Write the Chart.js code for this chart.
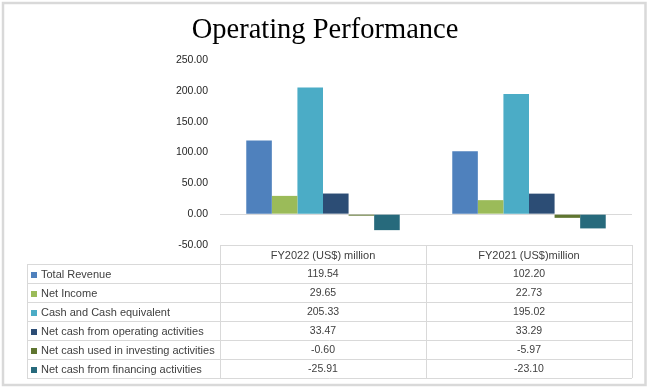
<!DOCTYPE html>
<html>
<head>
<meta charset="utf-8">
<script src="https://cdn.jsdelivr.net/npm/chart.js@4/dist/chart.umd.min.js"></script>
<style>
  html, body { margin: 0; padding: 0; background: #fff; }
  #wrap { width: 650px; height: 390px; }
</style>
</head>
<body>
<div id="wrap"><canvas id="opChart" width="650" height="390"></canvas></div>
<script>
// chart data
const categories = ['FY2022 (US$) million', 'FY2021 (US$)million'];
const seriesNames = [
  'Total Revenue',
  'Net Income',
  'Cash and Cash equivalent',
  'Net cash from operating activities',
  'Net cash used in investing activities',
  'Net cash from financing activities'
];
const fy2022 = [119.54, 29.65, 205.33, 33.47, -0.60, -25.91];
const fy2021 = [102.20, 22.73, 195.02, 33.29, -5.97, -23.10];
const yMin = -50;
const yMax = 250;
const yStep = 50;

const colors = ['#4F81BD', '#9BBB59', '#4BACC6', '#2C4D75', '#5F7530', '#276A7C'];
const lineGray = '#d9d9d9';
const textGray = '#404040';
const sansFont = '"Liberation Sans", Arial, sans-serif';

// one dataset per series, one value per fiscal year
const datasets = seriesNames.map((name, i) => ({
  label: name,
  data: [fy2022[i], fy2021[i]],
  backgroundColor: colors[i],
  borderWidth: 0,
  minBarLength: 1.5,
  barPercentage: 1,
  categoryPercentage: 0.745
}));

// outer frame of the chart object
const framePlugin = {
  id: 'frame',
  beforeDraw(chart) {
    const ctx = chart.ctx;
    ctx.save();
    ctx.fillStyle = '#fff';
    ctx.fillRect(0, 0, chart.width, chart.height);
    ctx.strokeStyle = lineGray;
    ctx.lineWidth = 2.5;
    ctx.strokeRect(3, 3, 642.5, 382);
    ctx.restore();
  }
};

// excel style data table under the plot
const dataTablePlugin = {
  id: 'dataTable',
  afterDraw(chart) {
    const ctx = chart.ctx;
    const x = chart.scales.x;
    const area = chart.chartArea;
    const rowH = 19;
    const labelLeft = 27;
    const colW = (x.right - x.left) / categories.length;
    const headTop = area.bottom;
    const bodyTop = headTop + rowH;
    const bodyBottom = bodyTop + rowH * seriesNames.length;

    ctx.save();
    ctx.strokeStyle = lineGray;
    ctx.lineWidth = 1;
    ctx.beginPath();
    // header top
    ctx.moveTo(x.left, Math.round(headTop) + 0.5);
    ctx.lineTo(x.right, Math.round(headTop) + 0.5);
    // body rows
    for (let r = 0; r <= seriesNames.length; r++) {
      const y = Math.round(bodyTop + r * rowH) + 0.5;
      ctx.moveTo(labelLeft, y);
      ctx.lineTo(x.right, y);
    }
    // verticals
    ctx.moveTo(labelLeft + 0.5, bodyTop);
    ctx.lineTo(labelLeft + 0.5, bodyBottom);
    for (let c = 0; c <= categories.length; c++) {
      const cx = Math.round(x.left + c * colW) + 0.5;
      ctx.moveTo(cx, headTop);
      ctx.lineTo(cx, bodyBottom);
    }
    ctx.stroke();

    ctx.fillStyle = textGray;
    ctx.textBaseline = 'middle';
    ctx.textAlign = 'center';
    ctx.font = '11px ' + sansFont;
    categories.forEach((cat, c) => {
      ctx.fillText(cat, x.getPixelForValue(c), headTop + rowH / 2 + 1);
    });

    seriesNames.forEach((name, r) => {
      const cy = bodyTop + r * rowH + rowH / 2 + 1;
      ctx.fillStyle = colors[r];
      ctx.fillRect(31, Math.round(cy) - 3, 6, 6);
      ctx.fillStyle = textGray;
      ctx.textAlign = 'left';
      ctx.font = '11px ' + sansFont;
      ctx.fillText(name, 41, cy);
      ctx.textAlign = 'center';
      ctx.font = '10.5px ' + sansFont;
      const vals = [fy2022[r], fy2021[r]];
      vals.forEach((v, c) => {
        ctx.fillText(v.toFixed(2), x.getPixelForValue(c), cy);
      });
    });
    ctx.restore();
  }
};

new Chart(document.getElementById('opChart'), {
  type: 'bar',
  data: { labels: categories, datasets },
  options: {
    responsive: false,
    animation: false,
    layout: { padding: { left: 18, right: 18, top: 0, bottom: 145 } },
    plugins: {
      legend: { display: false },
      tooltip: { enabled: false },
      title: {
        display: true,
        text: 'Operating Performance',
        color: '#000',
        font: { family: '"Liberation Serif", "Times New Roman", serif', size: 28.5, weight: 'normal' },
        padding: { top: 13, bottom: 12.8 }
      }
    },
    scales: {
      x: { display: false },
      y: {
        min: yMin,
        max: yMax,
        afterFit(scale) { scale.width = 202; },
        border: { display: false },
        grid: {
          drawTicks: false,
          color: c => (c.tick && c.tick.value === 0 ? lineGray : 'rgba(0,0,0,0)')
        },
        ticks: {
          stepSize: yStep,
          padding: 12,
          color: '#262626',
          font: { family: sansFont, size: 10.5 },
          callback: v => Number(v).toFixed(2)
        }
      }
    }
  },
  plugins: [framePlugin, dataTablePlugin]
});
</script>
</body>
</html>
